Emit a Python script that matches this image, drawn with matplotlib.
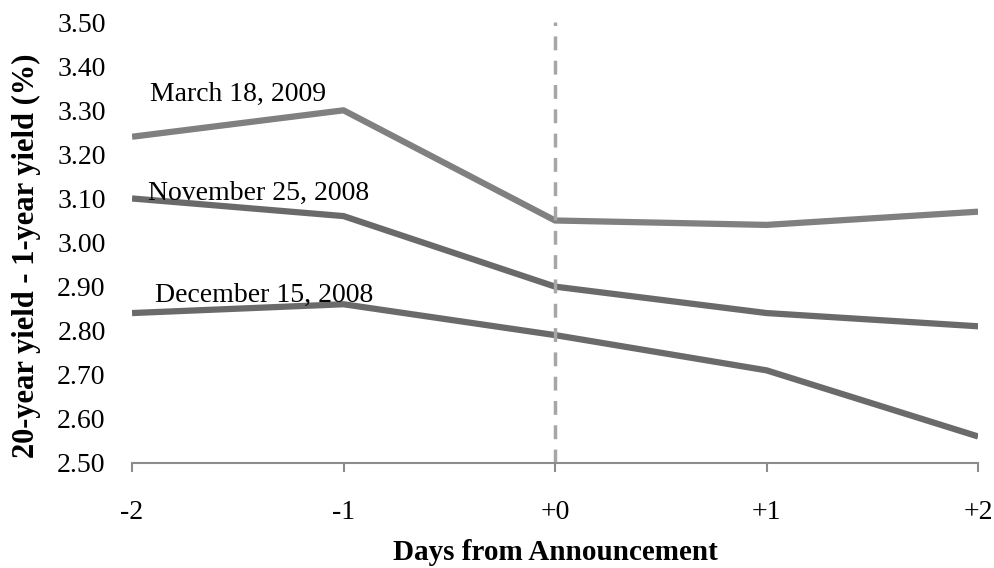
import matplotlib
matplotlib.use("Agg")
import matplotlib.pyplot as plt

days = [-2, -1, 0, 1, 2]
day_labels = ["-2", "-1", "+0", "+1", "+2"]
march_2009 = [3.24, 3.30, 3.05, 3.04, 3.07]
nov_2008 = [3.10, 3.06, 2.90, 2.84, 2.81]
dec_2008 = [2.84, 2.86, 2.79, 2.71, 2.56]
yticks = [2.50, 2.60, 2.70, 2.80, 2.90, 3.00, 3.10, 3.20, 3.30, 3.40, 3.50]

plt.rcParams['font.family'] = ['Liberation Serif', 'DejaVu Serif']

fig = plt.figure(figsize=(9.95, 5.68), dpi=100)
ax = fig.add_axes([0.1327, 0.185, 0.983 - 0.1327, 0.961 - 0.185])

ax.plot(days, march_2009, color='#808080', lw=4.5, solid_capstyle='butt')
ax.plot(days, nov_2008, color='#6a6a6a', lw=4.5, solid_capstyle='butt')
ax.plot(days, dec_2008, color='#6a6a6a', lw=4.5, solid_capstyle='butt')
ax.axvline(0, color='#a6a6a6', lw=2.5, ls=(0, (4, 3)))

ax.text(-1.915, 3.335, "March 18, 2009", fontsize=20, va='center', ha='left')
ax.text(-1.924, 3.112, "November 25, 2008", fontsize=20, va='center', ha='left')
ax.text(-1.89, 2.88, "December 15, 2008", fontsize=20, va='center', ha='left')

ax.set_xlim(-2, 2)
ax.set_ylim(2.5, 3.5)
ax.set_xticks(days)
ax.set_xticklabels(day_labels)
ax.set_yticks(yticks)
ax.set_yticklabels(["%.2f" % v for v in yticks])

for s in ['left', 'right', 'top']:
    ax.spines[s].set_visible(False)
ax.spines['bottom'].set_color('#8c8c8c')
ax.spines['bottom'].set_linewidth(1.5)
ax.tick_params(axis='y', length=0, pad=19, labelsize=20)
ax.tick_params(axis='x', length=6.5, width=1.5, color='#8c8c8c', pad=20, labelsize=20)

ax.set_xlabel("Days from Announcement", fontsize=21, fontweight='bold')
ax.xaxis.set_label_coords(0.5, -0.172)
ax.set_ylabel("20-year yield - 1-year yield (%)", fontsize=22, fontweight='bold')
ax.yaxis.set_label_coords(-0.108, 0.47)

fig.savefig("out.png", dpi=100)
